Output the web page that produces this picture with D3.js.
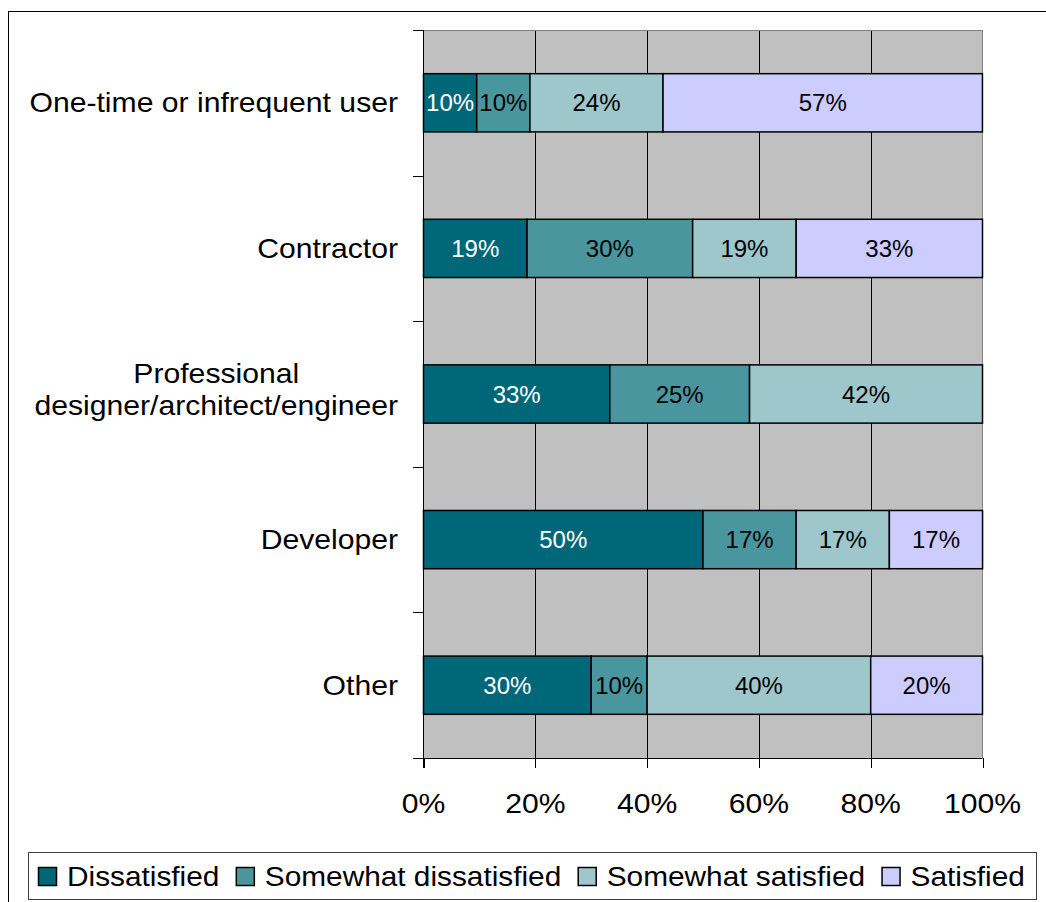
<!DOCTYPE html>
<html>
<head>
<meta charset="utf-8">
<script src="https://cdn.jsdelivr.net/npm/d3@7"></script>
<style>
  html, body { margin: 0; padding: 0; background: #fff; }
  svg { display: block; font-family: "Liberation Sans", Arial, sans-serif; }
</style>
</head>
<body>
<svg id="chart" width="1046" height="902"></svg>
<script>
// ---- data ----
const categories = [
  "One-time or infrequent user",
  "Contractor",
  "Professional\ndesigner/architect/engineer",
  "Developer",
  "Other"
];
const seriesNames = ["Dissatisfied", "Somewhat dissatisfied", "Somewhat satisfied", "Satisfied"];
const dissatisfied         = [9.52, 18.52, 33.33, 50.0, 30.0];
const somewhatDissatisfied = [9.52, 29.63, 25.0, 16.67, 10.0];
const somewhatSatisfied    = [23.81, 18.52, 41.67, 16.67, 40.0];
const satisfied            = [57.14, 33.33, 0.0, 16.67, 20.0];
const xTicks = [0, 20, 40, 60, 80, 100];
const colors = ["#006778", "#4A969F", "#9DC7CB", "#CCCCFF"];

(function () {
const seriesValues = [dissatisfied, somewhatDissatisfied, somewhatSatisfied, satisfied];
const rows = categories.map((c, i) => {
  const r = { cat: c };
  seriesNames.forEach((s, j) => r[s] = seriesValues[j][i]);
  return r;
});

const svg = d3.select("#chart");
const AX = 1.1; // horizontal stretch of the reference's axis/legend text
const FS = 27.4;
const LFS = 27.1;

// outer frame
svg.append("rect").attr("x", 8.5).attr("y", 11.5).attr("width", 1100).attr("height", 1000)
  .attr("fill", "none").attr("stroke", "#000").attr("stroke-width", 1);

const pLeft = 423.5, pRight = 982.5, pTop = 30, pBottom = 758;
const x = d3.scaleLinear().domain([0, 100]).range([pLeft, pRight]);
const y = d3.scaleBand().domain(categories).range([pTop, pBottom]).paddingInner(0.6).paddingOuter(0.3);
const step = y.step();

// plot background
svg.append("rect").attr("x", pLeft).attr("y", pTop).attr("width", pRight - pLeft).attr("height", pBottom - pTop)
  .attr("fill", "#C0C0C0");

// gridlines
svg.append("g").selectAll("line").data(xTicks.filter(t => t > 0 && t < 100)).join("line")
  .attr("x1", d => Math.round(x(d)) + 0.5).attr("x2", d => Math.round(x(d)) + 0.5)
  .attr("y1", pTop).attr("y2", pBottom).attr("stroke", "#000").attr("stroke-width", 1);

// border top/right gray
svg.append("line").attr("x1", 413).attr("x2", pRight).attr("y1", pTop + 0.5).attr("y2", pTop + 0.5)
  .attr("stroke", "#808080");
svg.append("line").attr("x1", pRight).attr("x2", pRight).attr("y1", pTop).attr("y2", pBottom)
  .attr("stroke", "#808080");

// stacked bars
const stack = d3.stack().keys(seriesNames);
const stacked = stack(rows);
const layers = svg.append("g").selectAll("g").data(stacked).join("g")
  .attr("fill", (d, i) => colors[i]);
layers.selectAll("rect").data(d => d.filter(p => p[1] - p[0] > 0)).join("rect")
  .attr("x", d => x(d[0])).attr("width", d => x(d[1]) - x(d[0]))
  .attr("y", d => y(d.data.cat)).attr("height", y.bandwidth())
  .attr("stroke", "#000").attr("stroke-width", 1.5);

// bar labels
const fmt = d3.format(".0f");
layers.each(function(layer, i) {
  d3.select(this).selectAll("text").data(layer.filter(p => p[1] - p[0] > 0)).join("text")
    .attr("x", d => (x(d[0]) + x(d[1])) / 2)
    .attr("y", d => y(d.data.cat) + y.bandwidth() / 2 + 8.5)
    .attr("text-anchor", "middle")
    .attr("font-size", 24)
    .attr("stroke", "none")
    .attr("fill", i === 0 ? "#fff" : "#000")
    .text(d => fmt(d[1] - d[0]) + "%");
});

// y axis
const yAxisG = svg.append("g");
yAxisG.append("line").attr("x1", pLeft).attr("x2", pLeft).attr("y1", pTop).attr("y2", pBottom + 10)
  .attr("stroke", "#000");
yAxisG.selectAll("line.tick").data(d3.range(categories.length + 1)).join("line")
  .attr("class", "tick")
  .attr("x1", 413).attr("x2", pLeft)
  .attr("y1", d => Math.round(pTop + d * step) + 0.5).attr("y2", d => Math.round(pTop + d * step) + 0.5)
  .attr("stroke", "#000");

// category labels
categories.forEach(c => {
  const lines = c.split("\n");
  const cy = y(c) + y.bandwidth() / 2;
  const g = yAxisG.append("g");
  if (lines.length === 1) {
    g.append("text").attr("transform", `translate(398,${cy + 9.5}) scale(${AX},1)`)
      .attr("text-anchor", "end").attr("font-size", FS).text(lines[0]);
  } else {
    const tmp = g.append("text").attr("font-size", FS).text(lines[1]);
    const w = tmp.node().getComputedTextLength() * AX;
    tmp.remove();
    const cx = 398 - w / 2;
    lines.forEach((ln, k) => {
      g.append("text").attr("transform", `translate(${cx},${cy - 11 + k * 32}) scale(${AX},1)`)
        .attr("text-anchor", "middle").attr("font-size", FS).text(ln);
    });
  }
});

// x axis
const xAxisG = svg.append("g");
xAxisG.append("line").attr("x1", pLeft).attr("x2", pRight).attr("y1", pBottom + 0.5).attr("y2", pBottom + 0.5)
  .attr("stroke", "#000");
xAxisG.selectAll("line.tick").data(xTicks).join("line").attr("class", "tick")
  .attr("x1", d => Math.round(x(d)) + 0.5).attr("x2", d => Math.round(x(d)) + 0.5)
  .attr("y1", pBottom).attr("y2", pBottom + 10).attr("stroke", "#000");
xAxisG.selectAll("text").data(xTicks).join("text")
  .attr("transform", d => `translate(${x(d)},813) scale(${AX},1)`)
  .attr("text-anchor", "middle").attr("font-size", FS)
  .text(d => d + "%");

// legend
const lg = svg.append("g");
lg.append("rect").attr("x", 28.5).attr("y", 852.5).attr("width", 1008).attr("height", 47)
  .attr("fill", "#fff").attr("stroke", "#404040");
let lx = 38;
seriesNames.forEach((s, i) => {
  lg.append("rect").attr("x", lx + 0.5).attr("y", 867.5).attr("width", 18).attr("height", 18)
    .attr("fill", colors[i]).attr("stroke", "#000").attr("stroke-width", 1.5);
  const t = lg.append("text").attr("font-size", LFS)
    .attr("transform", `translate(${lx + 29},886) scale(${AX},1)`).text(s);
  const w = t.node().getComputedTextLength() * AX;
  lx = lx + 29 + w + 16.5;
});
})();
</script>
</body>
</html>
